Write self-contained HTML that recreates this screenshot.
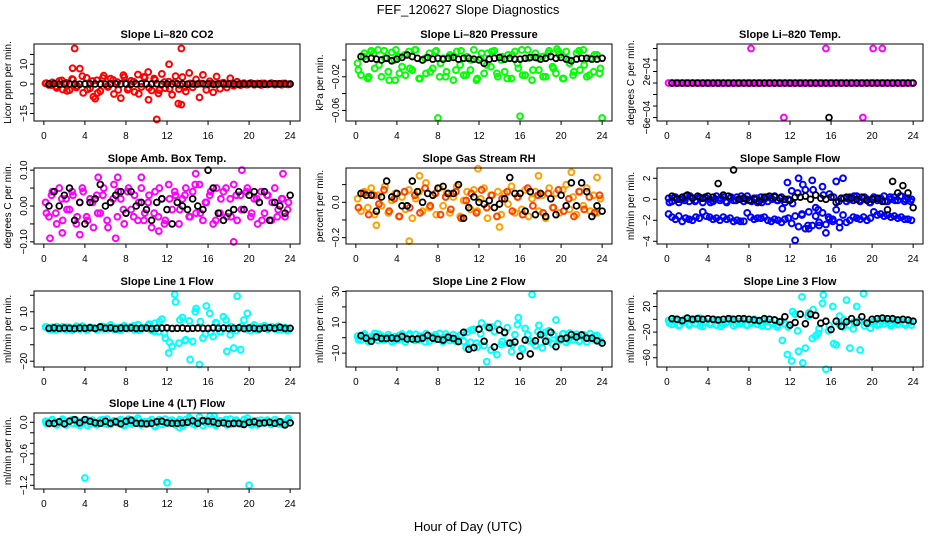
<!DOCTYPE html>
<html><head><meta charset="utf-8"><style>
html,body{margin:0;padding:0;background:#fff;}
svg{display:block;font-family:"Liberation Sans",sans-serif;}
</style></head><body>
<svg id="chart" width="936" height="540" viewBox="0 0 936 540">
<rect x="0" y="0" width="936" height="540" fill="#fff"/>
<text x="468" y="14" font-size="13" text-anchor="middle">FEF_120627  Slope Diagnostics</text>
<text x="468" y="531" font-size="13" text-anchor="middle">Hour of Day (UTC)</text>
</svg>
<script>
const hourTicks=[0,4,8,12,16,20,24];

const co2Main=[0.3,-0.5,0.8,-1.2,1.5,-2.8,0.6,-3.1,2.2,-1.8,7.8,-4.5,3.1,-2.2,-6.5,1.9,-3.6,4.2,-1.1,2.7,-5.1,0.9,-7.2,3.4,-2.9,1.6,-4.0,4.8,-1.5,3.2,6.1,-3.3,2.0,-4.8,5.1,-2.1,1.2,-5.5,4.0,-2.6,3.5,-3.8,5.6,-1.7,2.3,-6.8,4.6,-3.0,1.4,-4.2,3.8,-2.4,0.7,-1.8,2.9,-0.9,1.1,-0.6,0.4,-0.3,0.5,-0.4,0.2,-0.5,0.3,-0.2,0.4,-0.3,0.1,-0.4,0.3,-0.2];
const co2Extra=[0.4,-0.6,-2.0,1.8,-3.5,2.5,-1.0,4.0,-2.8,1.5,-4.5,3.0,-1.5,2.0,-3.0,4.5,-2.2,1.2,-5.0,3.6,-1.9,2.8,-3.2,1.0,-2.5,0.8,-0.5,-1.6,0.3,-0.2,0.2,-0.3,0.1,-0.2,0.3,-0.1,0.2,-0.2,0.1,-0.3,0.2,-0.1,0.3,-0.2,0.1,-0.1,0.2,-0.2];
const co2Black=[0,0.1,-0.1,0,0.1,0,-0.1,0,0.1,0,0,-0.1,0,0.1,0,0,-0.1,0,0.1,0,0,0.1,-0.1,0,0,0.1,0,-0.1,0,0,0.1,0,-0.1,0,0.1,0,0,-0.1,0,0.1,0,0,-0.1,0,0.1,0,0,0];
const co2OutHours=[3,13.4,2.8,12.2,11,13.1,13.4,10.2,5];
const co2OutValues=[18,18,8,10,-18,-10,-10.5,-8,-7.5];

const presMain=[-0.004,-0.018,0.008,-0.022,0.010,-0.010,0.012,-0.020,0.002,-0.014,0.009,-0.024,0.004,-0.008,-0.018,0.010,-0.012,0.012,-0.022,0.000,-0.016,0.008,-0.010,0.011,-0.020,0.002,-0.014,0.006,-0.024,0.010,-0.006,-0.018,0.004,-0.012,0.012,-0.022,0.002,-0.016,0.008,-0.008,0.011,-0.020,0.000,-0.014,0.006,-0.022,0.010,-0.010,0.012,-0.018,0.002,-0.024,0.008,-0.012,0.004,-0.020,0.011,-0.008,-0.016,0.006,-0.022,0.010,-0.004,-0.018,0.008,-0.012,0.012,-0.020,0.002,-0.014,0.006,-0.010];
const presExtra=[-0.012,0.004,-0.020,0.008,-0.006,0.011,-0.024,0.000,-0.016,0.006,-0.010,0.012,-0.022,0.002,-0.014,0.010,-0.004,-0.020,0.004,-0.012,0.011,-0.018,0.000,-0.024,0.008,-0.006,0.010,-0.016,0.004,-0.022,0.006,-0.004,-0.018,0.012,-0.012,0.002,-0.020,0.008,-0.010,0.010,-0.022,0.000,-0.014,0.011,-0.006,-0.018,0.006,-0.016];
const presBlack=[0.004,0.001,0.002,0.001,0.0,0.002,-0.001,0.001,0.003,0.006,0.004,0.002,0.0,0.003,0.001,0.002,0.001,0.002,0.003,0.001,0.002,0.002,0.001,0.0,-0.004,0.001,0.002,0.003,0.001,0.002,0.001,0.001,0.002,0.003,0.003,0.001,0.002,0.004,0.002,0.003,0.001,-0.001,0.001,0.002,0.002,0.001,0.001,0.002];
const presOutHours=[8,16,24,1.5,19.6,3.9];
const presOutValues=[-0.069,-0.067,-0.069,0.011,0.013,0.012];

const tempMain=[0,0,0,0,0,0,0,0,0,0,0,0,0,0,0,0,0,0,0,0,0,0,0,0,0,0,0,0,0,0,0,0,0,0,0,0,0,0,0,0,0,0,0,0,0,0,0,0,0,0,0,0,0,0,0,0,0,0,0,0,0,0,0,0,0,0,0,0,0,0,0,0];
const tempBlack=[0,0,0,0,0,0,0,0,0,0,0,0,0,0,0,0,0,0,0,0,0,0,0,0,0,0,0,0,0,0,0,0,0,0,0,0,0,0,0,0,0,0,0,0,0,0,0,0];
const tempOutHours=[8.2,15.5,20.1,21,11.4,19.1];
const tempOutValues=[0.0006,0.0006,0.0006,0.0006,-0.0006,-0.0006];
const tempBlackOutHours=[15.8];
const tempBlackOutValues=[-0.0006];

const ambMain=[0.01,-0.03,0.04,-0.02,0.05,-0.04,0.02,-0.01,0.03,-0.05,0.01,0.04,-0.03,0.02,-0.06,0.03,-0.02,0.05,-0.04,0.01,0.06,-0.03,0.02,-0.05,0.04,-0.01,0.03,-0.04,0.05,-0.02,0.01,-0.06,0.04,-0.03,0.02,-0.04,0.06,-0.01,0.03,-0.05,0.02,0.05,-0.03,0.04,-0.02,0.06,-0.04,0.01,0.03,-0.05,0.05,-0.02,0.04,-0.03,0.02,0.06,-0.04,0.03,-0.01,0.05,-0.03,0.02,-0.05,0.04,-0.02,0.03,-0.04,0.05,-0.01,0.02,-0.03,0.01];
const ambExtra=[-0.02,0.03,-0.05,0.02,-0.01,0.04,-0.03,0.05,-0.04,0.01,-0.02,0.03,-0.06,0.02,0.04,-0.01,0.05,-0.03,0.01,-0.04,0.03,-0.02,0.05,-0.05,0.02,0.04,-0.01,0.03,-0.03,0.06,-0.02,0.01,0.04,-0.04,0.02,0.05,-0.03,0.03,-0.01,0.04,-0.02,0.02,-0.04,0.03,0.01,-0.03,0.02,-0.01];
const ambBlack=[0.0,0.04,0.0,0.03,0.05,-0.04,0.01,-0.05,0.01,0.02,0.06,0.0,0.01,0.03,0.04,-0.02,0.04,0.0,0.01,-0.01,-0.04,0.01,0.02,-0.01,-0.05,0.01,0.0,-0.01,0.02,0.0,-0.01,0.1,0.05,-0.02,-0.04,-0.02,-0.01,0.04,-0.01,0.03,0.04,0.01,0.04,-0.04,0.01,0.0,-0.02,0.03];
const ambOutHours=[0.6,1.8,5.3,7.2,9.5,11.2,14.8,18.5,19.3,23.3,7.0,3.5];
const ambOutValues=[-0.09,-0.075,0.08,0.08,0.08,-0.07,0.09,-0.1,0.1,0.09,-0.09,-0.08];

const rhMain=[0.02,-0.05,0.06,-0.03,0.08,-0.07,0.04,-0.02,0.09,-0.06,0.01,0.05,-0.08,0.03,-0.04,0.07,-0.09,0.02,0.06,-0.05,0.11,-0.03,0.04,-0.07,0.08,-0.02,0.05,-0.06,0.03,0.09,-0.08,0.01,0.06,-0.04,0.07,-0.05,0.02,0.08,-0.09,0.04,-0.03,0.06,-0.07,0.05,-0.01,0.09,-0.06,0.03,-0.04,0.07,-0.08,0.02,0.06,-0.05,0.04,-0.09,0.08,-0.03,0.05,-0.06,0.07,0.10,-0.04,0.03,-0.07,0.06,-0.02,0.08,-0.05,0.04,-0.06,0.02];
const rhExtra=[-0.03,0.05,-0.07,0.04,-0.01,0.07,-0.05,0.02,-0.08,0.06,-0.03,0.04,-0.06,0.08,-0.02,0.05,-0.07,0.03,-0.04,0.06,-0.09,0.01,0.05,-0.06,0.07,-0.03,0.04,-0.08,0.02,0.06,-0.05,0.03,-0.07,0.08,-0.02,0.04,-0.06,0.05,-0.03,0.07,-0.05,0.02,-0.08,0.06,-0.04,0.03,-0.06,0.04];
const rhBlack=[0.05,0.04,0.04,-0.05,0.03,0.12,0.03,0.05,-0.02,-0.02,0.12,0.06,0.0,0.05,0.04,0.08,0.09,0.05,0.05,0.1,-0.09,-0.03,0.03,0.0,-0.01,0.01,-0.03,-0.01,0.02,0.14,0.05,0.05,-0.05,0.06,-0.07,0.05,-0.08,0.02,-0.07,0.04,-0.02,0.11,-0.02,0.11,0.06,-0.08,-0.02,-0.05];
const rhOutHours=[5.2,11.9,21.0,23.5,6.2,17.8,2.0,14.0];
const rhOutValues=[-0.22,0.19,0.17,0.14,0.15,0.15,-0.13,-0.14];

const flowMain=[0.1,-0.2,0.2,-0.3,0.0,0.3,-0.2,0.1,-0.1,0.2,-0.3,0.1,0.0,-0.2,0.3,-0.1,0.2,-0.3,0.1,-0.1,0.2,0.0,-0.2,0.3,-0.1,0.1,-0.3,0.2,0.0,-0.2,0.1,0.3,-0.1,0.2,-0.3,0.0,0.8,-3.9,2.0,-1.5,0.9,-2.8,1.8,-0.8,-2.5,1.2,-3.2,0.5,-1.9,1.7,-2.2,2.0,-0.2,0.2,-0.1,0.3,-0.2,0.1,0.0,-0.3,0.2,-0.1,0.1,0.3,-0.2,0.0,0.2,-0.1,0.3,-0.2,0.1,0.0];
const flowExtra=[-0.3,0.2,0.0,-0.1,0.3,-0.2,0.1,0.2,-0.3,0.0,0.1,-0.2,0.2,-0.1,0.3,0.0,-0.2,0.1,-0.3,0.2,0.0,-0.1,-0.9,1.6,-0.4,0.6,1.4,-2.5,0.9,-1.0,0.4,-1.7,0.2,-0.2,0.1,0.0,0.3,-0.1,0.2,-0.3,0.1,0.0,-0.2,0.2,-0.1,0.3,0.0,-0.2];
const flowLower=[-1.4,-1.7,-1.9,-1.6,-2.1,-1.8,-1.9,-2.0,-1.7,-1.8,-1.2,-1.6,-1.7,-1.9,-1.8,-2.0,-1.7,-1.9,-1.8,-2.1,-2.0,-2.1,-2.1,-1.3,-1.7,-1.9,-1.8,-1.8,-1.7,-2.0,-2.1,-1.9,-2.0,-2.2,-1.9,-1.8,-2.3,-1.6,-2.6,-1.4,-2.8,-1.2,-2.5,-1.6,-2.2,-1.3,-2.4,-1.9,-2.1,-1.0,-2.7,-1.5,-2.2,-2.0,-1.7,-1.8,-1.9,-1.7,-2.0,-1.8,-1.2,-1.5,-1.4,-1.6,-1.5,-1.7,-1.6,-1.8,-1.7,-1.9,-1.9,-2.0];
const flowBlack=[0.3,0.0,0.2,0.4,0.1,0.3,0.1,0.3,0.2,1.5,0.4,0.3,2.8,0.0,0.1,-0.1,0.0,-0.2,0.2,0.3,0.2,0.1,0.0,-0.1,0.2,0.2,0.3,0.0,0.4,0.1,0.0,0.2,-0.3,0.1,0.2,0.1,0.0,0.2,-0.1,0.0,0.1,-0.2,-1.0,1.7,0.6,1.3,0.6,-0.8];

const line1Main=[0.8,-0.5,0.6,-1.0,0.3,0.9,-0.8,0.5,-0.3,1.2,-0.6,0.4,-1.1,0.7,0.2,-0.9,1.0,-0.4,0.6,2.0,-0.7,0.3,-1.2,1.5,-0.2,0.8,-1.0,2.2,-0.5,0.4,1.8,-1.3,3.0,-2.0,5.5,-6.0,-15.0,-11.0,16.0,-9.0,6.5,-7.0,4.5,-8.0,12.0,-22.0,-6.0,13.5,9.0,-5.0,3.0,-2.0,7.0,-14.0,-4.0,-12.0,19.5,-13.0,5.0,9.0,-1.5,2.0,-1.0,0.8,1.5,-0.6,0.9,-0.4,1.2,-0.8,0.5,-1.0];
const line1Extra=[0.5,-0.8,1.0,-0.3,0.7,-1.2,0.4,1.3,-0.6,0.2,-0.9,1.1,-0.4,0.8,-1.0,0.6,-0.2,1.5,-1.1,0.3,2.5,-1.8,4.0,-3.0,-8.5,20.5,5.0,-7.5,-19.0,10.0,4.0,-3.5,-2.5,3.5,-2.0,5.0,1.0,-1.5,1.2,-0.5,0.8,-0.9,0.4,-0.3,0.6,-0.7,0.3,-1.4];
const line1Black=[0,0.2,-0.1,0.1,0,-0.2,0.1,0,0.3,-0.1,0.8,0,0.2,-0.3,0.1,0,0.2,-0.1,0,0.1,-0.2,0,0.1,0.2,-0.1,0,0.1,-0.2,0,0.1,0,-0.1,0.2,0,0.1,-0.1,0,0.2,-0.2,0.1,0,-0.3,0.1,0.3,0,0.6,-0.1,0];

const line2Main=[1.0,-1.5,2.5,-2.0,0.5,2.8,-1.8,1.2,-0.5,2.0,-2.5,0.8,-1.2,2.4,-2.8,1.5,-0.8,2.2,-1.5,0.3,2.6,-2.2,1.0,-1.0,2.8,-2.6,0.6,-1.8,2.0,-0.4,1.6,-2.4,3.5,-3.0,5.5,-6.0,2.5,-5.0,7.0,-8.0,4.0,9.0,-4.5,3.0,-3.5,-9.0,2.0,13.0,-7.0,6.0,-2.0,28.0,-5.0,8.0,-6.5,3.5,4.5,-4.0,11.5,-2.0,2.5,-3.0,3.0,-1.5,2.2,-2.0,1.0,-2.8,2.6,-1.0,1.5,-2.2];
const line2Extra=[-1.2,1.8,-2.5,0.9,2.2,-1.5,0.4,-2.0,1.6,-0.6,2.5,-1.8,1.0,-2.6,0.6,1.9,-1.2,2.4,-0.4,-2.2,1.5,-6.5,5.0,-3.5,9.5,-15.5,7.0,-11.0,-2.5,6.5,-4.5,8.5,-7.5,2.0,-3.0,4.0,1.5,-2.2,2.0,-1.0,2.6,-1.6,0.8,-2.4,1.8,-0.5,1.2,-1.8];
const line2Black=[1.3,-0.3,-2.3,0.5,-0.5,-0.5,-0.2,-0.5,0.8,-0.8,-0.8,-0.8,-0.3,1.5,-0.3,-1.0,-1.5,0.3,-0.5,-2.5,3.5,-7.5,-6.5,5.5,-2.3,6.5,-6.0,5.0,3.5,-3.5,-2.8,-12.0,-1.5,-10.5,-2.0,2.0,-2.3,3.5,-5.8,-0.8,-0.3,2.0,0.5,1.8,-0.3,-0.3,-2.0,-3.5];

const line3Main=[-2,-8,0,-10,-5,1,-9,-3,-7,2,-11,-4,-6,0,-9,-2,-8,-5,1,-10,-3,-7,-1,-9,-4,0,-8,-6,-2,-11,-5,-1,-9,-3,-7,-12,-65,8,-50,35,-45,10,-30,-26,-15,25,-78,-10,20,-40,5,-12,30,-45,-15,20,-48,40,-5,-14,-3,-9,0,-7,-4,-10,-1,-8,-3,-6,-2,-9];
const line3Extra=[-6,-1,-9,-3,-7,0,-10,-4,-8,-2,-11,-5,-1,-8,-3,-9,-6,-2,-10,-4,-7,-12,-33,-55,12,-18,-68,5,15,-22,38,-18,-38,-7,-1,-9,-4,-2,-10,-6,-3,-8,-1,-7,-5,-2,-9,-4];
const line3Black=[1,0,-2,2,0,1,0,1,0,-1,0,1,0,1,1,0,-1,-2,1,0,-1,-4,4,-9,-5,8,-7,8,6,-6,-3,-16,-3,-11,-4,1,-5,4,-6,0,1,2,1,1,-1,0,-1,-3];

const line4Main=[0.02,-0.03,0.05,-0.04,0.01,0.06,-0.05,0.03,-0.02,0.04,-0.06,0.02,0.05,-0.03,0.01,-0.05,0.04,-0.02,0.06,-0.04,0.03,-0.01,0.05,-0.06,0.02,-0.03,0.04,0.08,-0.05,0.01,-0.02,0.05,-0.08,0.03,-0.04,0.06,-0.02,0.04,-0.05,0.02,-0.07,0.05,0.09,-0.03,0.01,0.10,-0.06,0.04,-0.02,0.05,-0.04,0.03,0.01,-0.05,0.06,-0.03,0.02,-0.04,0.05,0.08,-0.02,0.03,-0.05,0.04,-0.01,0.02,-0.04,0.05,-0.03,0.01,-0.02,0.07];
const line4Extra=[-0.02,0.04,-0.05,0.03,-0.01,0.05,-0.03,0.02,-0.06,0.04,-0.02,0.05,-0.04,0.01,0.03,-0.05,0.06,-0.02,0.04,-0.03,0.02,-0.06,0.05,-0.01,0.03,-0.04,0.05,-0.02,0.07,-0.05,0.03,-0.01,0.04,-0.06,0.02,0.05,-0.03,0.04,-0.02,0.01,-0.05,0.03,-0.01,0.04,-0.03,0.02,-0.04,0.03];
const line4Black=[-0.02,-0.02,0.01,-0.03,0.02,0.05,-0.01,0.05,0.02,-0.01,-0.02,0.02,-0.02,0.01,-0.03,0.02,0.04,-0.02,-0.02,-0.03,-0.02,0.01,0.02,-0.01,-0.02,-0.02,-0.01,0.0,0.03,-0.02,0.03,0.02,0.01,-0.02,-0.01,-0.03,-0.02,-0.02,-0.04,0.0,0.01,-0.02,-0.01,0.0,-0.02,0.01,-0.05,-0.01];
const line4OutHours=[4,12,20,16.2,16.6,13.2];
const line4OutValues=[-1.06,-1.15,-1.2,0.12,0.12,-0.1];

const svg=document.getElementById('chart');
const NS='http://www.w3.org/2000/svg';
const colL=[34,346,657], colR=[300,612,923];
const rowT=[44,168,291,413], rowB=[121,244,367,489];

const panels=[
 {id:'co2',title:'Slope Li\u2013820 CO2',ylab:'Licor ppm per min.',c:0,r:0,ymin:-18.8,ymax:20.3,ticks:[-15,-10,-5,0,5,10,15],labs:[[10,'10'],[0,'0'],[-15,'\u221215']],
  series:[[co2Main,'#ff0000'],[co2Extra,'#ff0000'],[co2Black,'#000']],outs:[[co2OutHours,co2OutValues,'#ff0000']]},
 {id:'pressure',title:'Slope Li\u2013820 Pressure',ylab:'kPa per min.',c:1,r:0,ymin:-0.0726,ymax:0.019,ticks:[0,-0.02,-0.04,-0.06],labs:[[-0.02,'\u22120.02'],[-0.06,'\u22120.06']],
  series:[[presMain,'#00ff00'],[presExtra,'#00ff00'],[presBlack,'#000']],outs:[[presOutHours,presOutValues,'#00ff00']]},
 {id:'temp',title:'Slope Li\u2013820 Temp.',ylab:'degrees C per min.',c:2,r:0,ymin:-0.00066,ymax:0.000678,ticks:[-0.0006,-0.0004,-0.0002,0,0.0002,0.0004,0.0006],labs:[[0.0002,'2e\u221204'],[-0.0006,'\u22126e\u221204']],
  series:[[tempMain,'#ff00ff'],[tempBlack,'#000']],outs:[[tempOutHours,tempOutValues,'#ff00ff'],[tempBlackOutHours,tempBlackOutValues,'#000']]},
 {id:'amb-box-temp',title:'Slope Amb. Box Temp.',ylab:'degrees C per min.',c:0,r:1,ymin:-0.106,ymax:0.106,ticks:[-0.1,-0.05,0,0.05,0.1],labs:[[0.1,'0.10'],[0,'0.00'],[-0.1,'\u22120.10']],
  series:[[ambMain,'#ff00ff'],[ambExtra,'#ff00ff'],[ambBlack,'#000']],outs:[[ambOutHours,ambOutValues,'#ff00ff']]},
 {id:'gas-rh',title:'Slope Gas Stream RH',ylab:'percent per min.',c:1,r:1,ymin:-0.236,ymax:0.194,ticks:[0.1,0,-0.1,-0.2],labs:[[0,'0.0'],[-0.2,'\u22120.2']],
  series:[[rhMain,'#ffa000'],[rhExtra,'#ff4000'],[rhBlack,'#000']],outs:[[rhOutHours,rhOutValues,'#ffa000']]},
 {id:'sample-flow',title:'Slope Sample Flow',ylab:'ml/min per min.',c:2,r:1,ymin:-4.26,ymax:2.98,ticks:[2,0,-2,-4],labs:[[2,'2'],[0,'0'],[-2,'\u22122'],[-4,'\u22124']],
  series:[[flowMain,'#0000ff'],[flowExtra,'#0000ff'],[flowLower,'#0000ff'],[flowBlack,'#000']],outs:[]},
 {id:'line1-flow',title:'Slope Line 1 Flow',ylab:'ml/min per min.',c:0,r:2,ymin:-23.5,ymax:22.6,ticks:[20,10,0,-10,-20],labs:[[10,'10'],[0,'0'],[-20,'\u221220']],
  series:[[line1Main,'#00ffff'],[line1Extra,'#00ffff'],[line1Black,'#000']],outs:[]},
 {id:'line2-flow',title:'Slope Line 2 Flow',ylab:'ml/min per min.',c:1,r:2,ymin:-19,ymax:30.3,ticks:[30,20,10,0,-10],labs:[[30,'30'],[10,'10'],[-10,'\u221210']],
  series:[[line2Main,'#00ffff'],[line2Extra,'#00ffff'],[line2Black,'#000']],outs:[]},
 {id:'line3-flow',title:'Slope Line 3 Flow',ylab:'ml/min per min.',c:2,r:2,ymin:-74.5,ymax:44.2,ticks:[40,20,0,-20,-40,-60],labs:[[20,'20'],[-20,'\u221220'],[-60,'\u221260']],
  series:[[line3Main,'#00ffff'],[line3Extra,'#00ffff'],[line3Black,'#000']],outs:[]},
 {id:'line4-flow',title:'Slope Line 4 (LT) Flow',ylab:'ml/min per min.',c:0,r:3,ymin:-1.27,ymax:0.177,ticks:[0,-0.2,-0.4,-0.6,-0.8,-1.0,-1.2],labs:[[0,'0.0'],[-0.6,'\u22120.6'],[-1.2,'\u22121.2']],
  series:[[line4Main,'#00ffff'],[line4Extra,'#00ffff'],[line4Black,'#000']],outs:[[line4OutHours,line4OutValues,'#00ffff']]}
];

function mk(tag,attrs,parent){const e=document.createElementNS(NS,tag);for(const k in attrs)e.setAttribute(k,attrs[k]);parent.appendChild(e);return e;}

panels.forEach(p=>{
 const L=colL[p.c],R=colR[p.c],T=rowT[p.r],B=rowB[p.r];
 const xs=h=>L+(h+0.96)/25.92*(R-L);
 const ys=v=>B-(v-p.ymin)/(p.ymax-p.ymin)*(B-T);
 const g=mk('g',{},svg);
 
 
 const t=mk('text',{x:(L+R)/2,y:T-6,'font-size':11,'font-weight':'bold','text-anchor':'middle'},g);
 t.textContent=p.title;
 
 
 const yl=mk('text',{x:0,y:0,'font-size':10,'text-anchor':'middle',transform:`translate(${L-23},${(T+B)/2}) rotate(-90)`},g);
 yl.textContent=p.ylab;
 
 
 const xa=mk('g',{},g);
 
 
 hourTicks.forEach(h=>{
  mk('line',{x1:xs(h),x2:xs(h),y1:B,y2:B+4,stroke:'#000','stroke-width':1},xa);
  const tl=mk('text',{x:xs(h),y:B+18,'font-size':10,'text-anchor':'middle'},xa);
  tl.textContent=String(h);
  
  
 });
 const ya=mk('g',{},g);
 
 
 p.ticks.forEach(v=>{mk('line',{x1:L-4,x2:L,y1:ys(v),y2:ys(v),stroke:'#000','stroke-width':1},ya);});
 p.labs.forEach(([v,s])=>{
  const tl=mk('text',{x:0,y:0,'font-size':10,'text-anchor':'middle',transform:`translate(${L-7},${ys(v)}) rotate(-90)`},ya);
  tl.textContent=s;
  
  
 });
 const pts=mk('g',{},g);
 
 
 const outsColored=p.outs.filter(o=>o[2]!=='#000'), outsBlack=p.outs.filter(o=>o[2]==='#000');
 const draw=(h,v,col,sw)=>{
  const c=mk('circle',{cx:xs(h),cy:ys(v),r:2.9,fill:'none',stroke:col,'stroke-width':sw},pts);
  
  
 };
 p.series.forEach(([arr,col])=>{
  if(col==='#000')return;
  arr.forEach((v,i)=>draw((i+0.5)*24/arr.length,v,col,2));
 });
 outsColored.forEach(([hs,vs,col])=>hs.forEach((h,i)=>draw(h,vs[i],col,2)));
 p.series.forEach(([arr,col])=>{
  if(col!=='#000')return;
  arr.forEach((v,i)=>draw((i+1)*24/arr.length,v,col,1.8));
 });
 outsBlack.forEach(([hs,vs,col])=>hs.forEach((h,i)=>draw(h,vs[i],col,1.8)));
 const box=mk('rect',{x:L,y:T,width:R-L,height:B-T,fill:'none',stroke:'#000','stroke-width':1},g);
 
 
});
</script>
</body></html>
